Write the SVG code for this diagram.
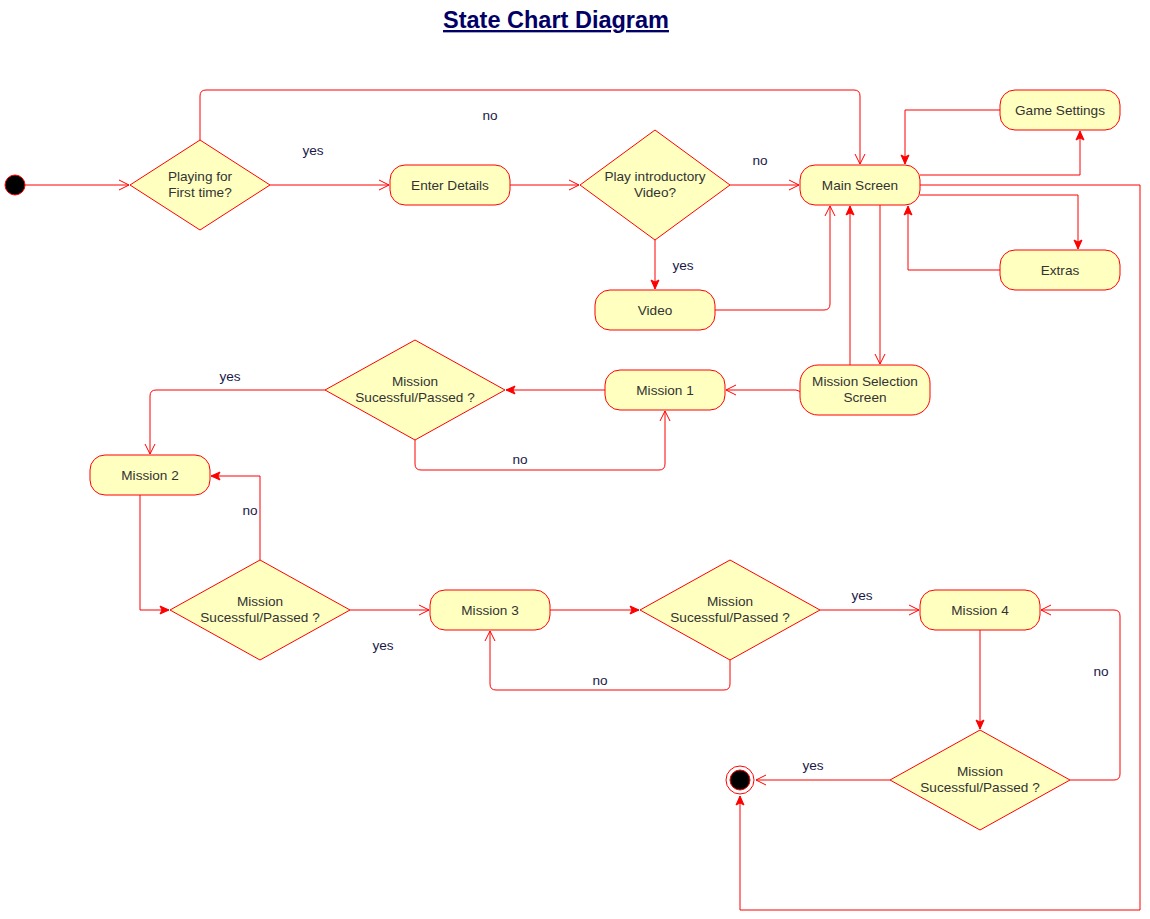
<svg xmlns="http://www.w3.org/2000/svg" width="1150" height="919" viewBox="0 0 1150 919">
<defs>
<style>
.n{fill:#FFFFC0;stroke:#FF0000;stroke-width:1}
.t{font-family:"Liberation Sans",Arial,sans-serif;font-size:13.6px;fill:#333333;text-anchor:middle}
.l{font-family:"Liberation Sans",Arial,sans-serif;font-size:13.6px;fill:#1a1a48;text-anchor:middle}
.e{fill:none;stroke:#FF0000;stroke-width:1}
.o{marker-end:url(#open)}
.f{marker-end:url(#fill)}
</style>
<marker id="open" markerUnits="userSpaceOnUse" markerWidth="14" markerHeight="14" viewBox="-12 -7 14 14" refX="0" refY="0" orient="auto">
<path d="M-10,-5 L0,0 L-10,5" fill="none" stroke="#FF0000" stroke-width="1"/>
</marker>
<marker id="fill" markerUnits="userSpaceOnUse" markerWidth="14" markerHeight="14" viewBox="-12 -7 14 14" refX="0" refY="0" orient="auto">
<path d="M-9,-4 L0,0 L-9,4 L-7,0 Z" fill="#FF0000" stroke="#FF0000" stroke-width="1"/>
</marker>
</defs>
<rect width="1150" height="919" fill="#FFFFFF"/>
<text x="556" y="28" font-family="Liberation Sans,Arial,sans-serif" font-size="23.5" font-weight="bold" fill="#000066" text-anchor="middle" text-decoration="underline">State Chart Diagram</text>

<g id="connectors">
<path class="e o" d="M25,185 H129"/>
<path class="e o" d="M200,140 V96 Q200,90 206,90 H854 Q860,90 860,96 V164"/>
<path class="e o" d="M270,185 H389"/>
<path class="e o" d="M510,185 H579"/>
<path class="e o" d="M730,185 H799"/>
<path class="e f" d="M655,240 V289"/>
<path class="e o" d="M715,310 H824 Q830,310 830,304 V206"/>
<path class="e f" d="M850,365 V206"/>
<path class="e o" d="M880,205 V364"/>
<path class="e f" d="M920,175 H1080 V131"/>
<path class="e f" d="M1000,110 H905 V164"/>
<path class="e f" d="M920,195 H1078 V249"/>
<path class="e f" d="M1000,270 H908 V206"/>
<path class="e f" d="M920,185 H1140 V910 H740 V796"/>
<path class="e o" d="M802,395 Q800,390 796,390 H726"/>
<path class="e f" d="M605,390 H506"/>
<path class="e o" d="M325,390 H156 Q150,390 150,396 V454"/>
<path class="e o" d="M415,440 V464 Q415,470 421,470 H659 Q665,470 665,464 V411"/>
<path class="e f" d="M140,495 V610 H169"/>
<path class="e f" d="M260,560 V476 H211"/>
<path class="e o" d="M350,610 H429"/>
<path class="e f" d="M550,610 H639"/>
<path class="e o" d="M730,660 V684 Q730,690 724,690 H496 Q490,690 490,684 V631"/>
<path class="e o" d="M820,610 H919"/>
<path class="e f" d="M980,630 V729"/>
<path class="e o" d="M1070,780 H1114 Q1120,780 1120,774 V616 Q1120,610 1114,610 H1041"/>
<path class="e o" d="M890,780 H756"/>
</g>

<g id="edge-labels">
<text class="l" x="490" y="120">no</text>
<text class="l" x="313" y="155">yes</text>
<text class="l" x="760" y="165">no</text>
<text class="l" x="683" y="270">yes</text>
<text class="l" x="230" y="381">yes</text>
<text class="l" x="520" y="464">no</text>
<text class="l" x="250" y="515">no</text>
<text class="l" x="383" y="650">yes</text>
<text class="l" x="600" y="685">no</text>
<text class="l" x="862" y="600">yes</text>
<text class="l" x="1101" y="676">no</text>
<text class="l" x="813" y="770">yes</text>
</g>

<g id="start"><circle cx="15" cy="185" r="10" fill="#000000" stroke="#FF0000" stroke-width="1"/></g>

<g id="d-first">
<polygon class="n" points="200,140 270,185 200,230 130,185"/>
<text class="t" x="200" y="181">Playing for</text>
<text class="t" x="200" y="197">First time?</text>
</g>

<g id="enter-details">
<rect class="n" x="390" y="165" width="120" height="40" rx="15"/>
<text class="t" x="450" y="190">Enter Details</text>
</g>

<g id="d-video">
<polygon class="n" points="655,130 730,185 655,240 580,185"/>
<text class="t" x="655" y="181">Play introductory</text>
<text class="t" x="655" y="197">Video?</text>
</g>

<g id="main-screen">
<rect class="n" x="800" y="165" width="120" height="40" rx="15"/>
<text class="t" x="860" y="190">Main Screen</text>
</g>

<g id="game-settings">
<rect class="n" x="1000" y="90" width="120" height="40" rx="15"/>
<text class="t" x="1060" y="115">Game Settings</text>
</g>

<g id="extras">
<rect class="n" x="1000" y="250" width="120" height="40" rx="15"/>
<text class="t" x="1060" y="275">Extras</text>
</g>

<g id="video">
<rect class="n" x="595" y="290" width="120" height="40" rx="15"/>
<text class="t" x="655" y="315">Video</text>
</g>

<g id="mission-selection">
<rect class="n" x="800" y="365" width="130" height="50" rx="18"/>
<text class="t" x="865" y="386">Mission Selection</text>
<text class="t" x="865" y="402">Screen</text>
</g>

<g id="mission1">
<rect class="n" x="605" y="370" width="120" height="40" rx="15"/>
<text class="t" x="665" y="395">Mission 1</text>
</g>

<g id="d-m1">
<polygon class="n" points="415,340 505,390 415,440 325,390"/>
<text class="t" x="415" y="386">Mission</text>
<text class="t" x="415" y="402">Sucessful/Passed ?</text>
</g>

<g id="mission2">
<rect class="n" x="90" y="455" width="120" height="40" rx="15"/>
<text class="t" x="150" y="480">Mission 2</text>
</g>

<g id="d-m2">
<polygon class="n" points="260,560 350,610 260,660 170,610"/>
<text class="t" x="260" y="606">Mission</text>
<text class="t" x="260" y="622">Sucessful/Passed ?</text>
</g>

<g id="mission3">
<rect class="n" x="430" y="590" width="120" height="40" rx="15"/>
<text class="t" x="490" y="615">Mission 3</text>
</g>

<g id="d-m3">
<polygon class="n" points="730,560 820,610 730,660 640,610"/>
<text class="t" x="730" y="606">Mission</text>
<text class="t" x="730" y="622">Sucessful/Passed ?</text>
</g>

<g id="mission4">
<rect class="n" x="920" y="590" width="120" height="40" rx="15"/>
<text class="t" x="980" y="615">Mission 4</text>
</g>

<g id="d-m4">
<polygon class="n" points="980,730 1070,780 980,830 890,780"/>
<text class="t" x="980" y="776">Mission</text>
<text class="t" x="980" y="792">Sucessful/Passed ?</text>
</g>

<g id="end">
<circle cx="740" cy="780" r="14" fill="#FFFFFF" stroke="#FF0000" stroke-width="1"/>
<circle cx="740" cy="780" r="10" fill="#000000" stroke="#FF0000" stroke-width="1"/>
</g>
</svg>
